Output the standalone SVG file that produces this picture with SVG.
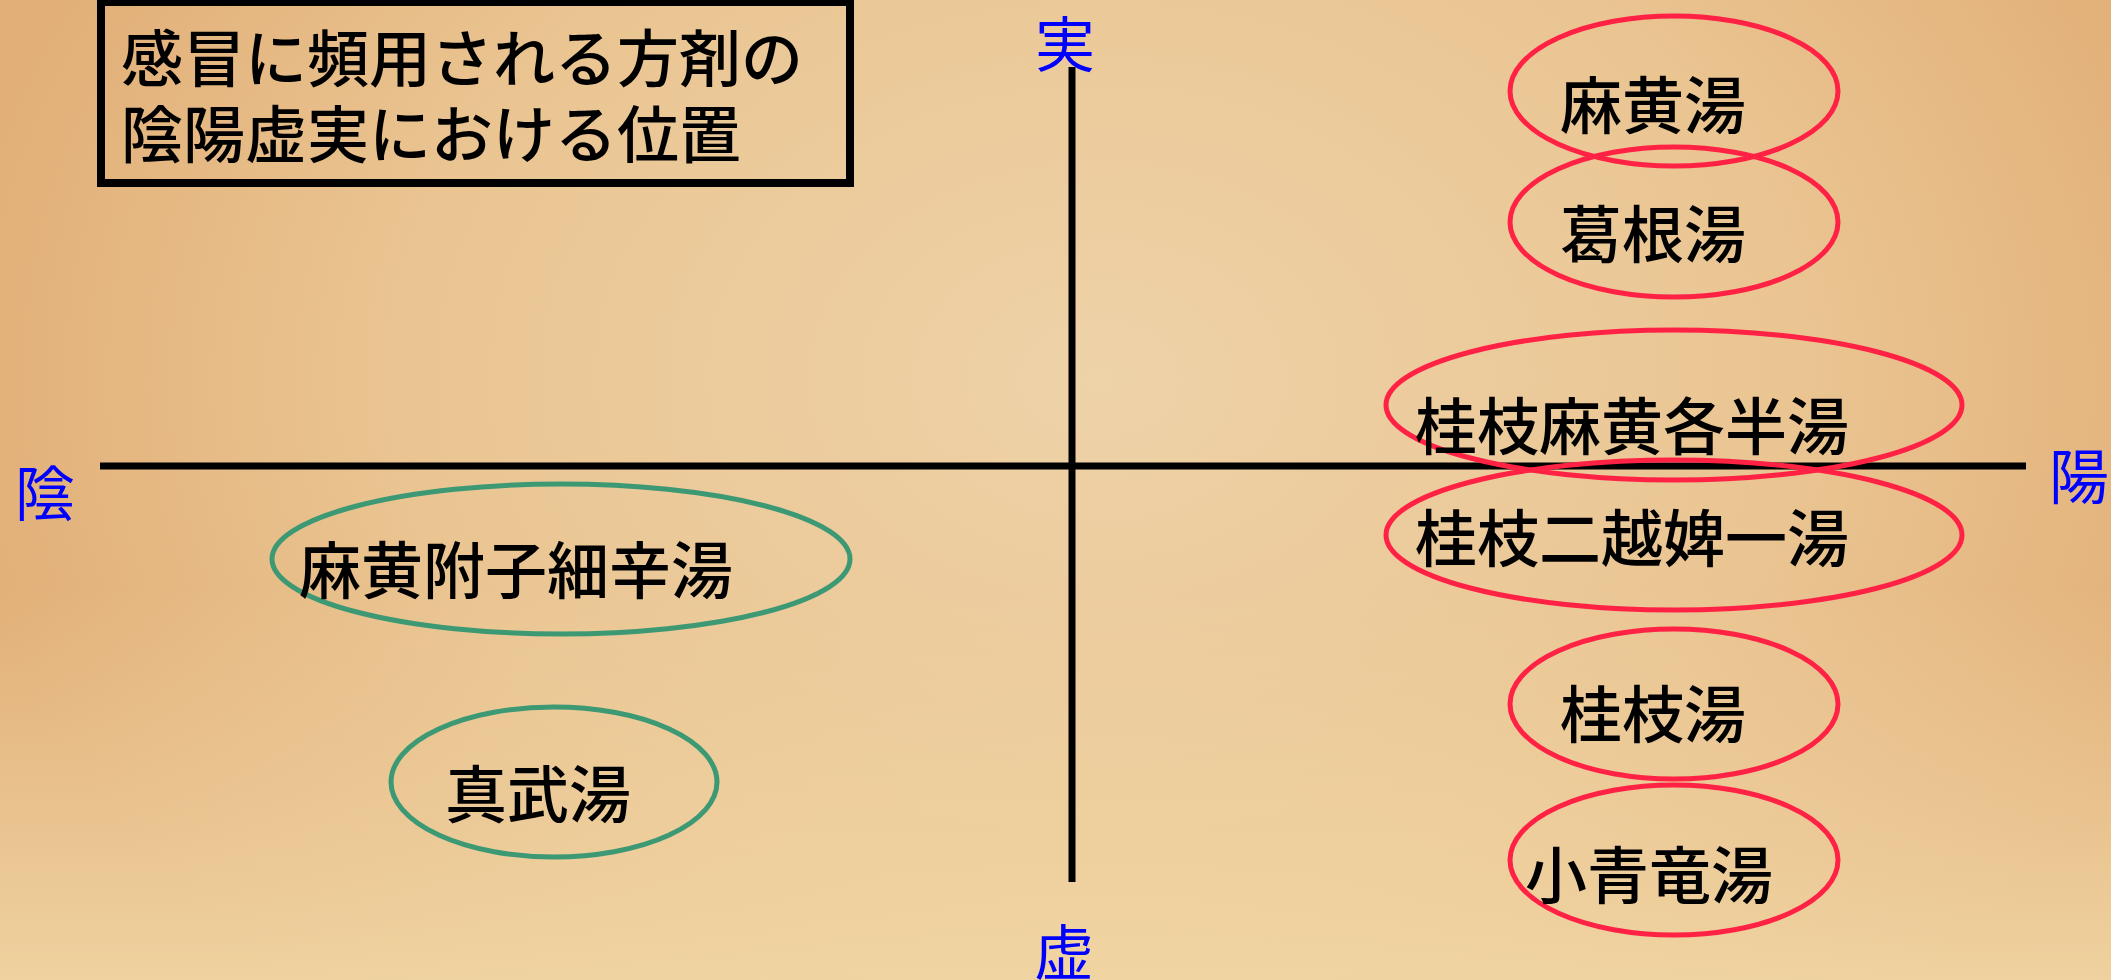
<svg xmlns="http://www.w3.org/2000/svg" width="2111" height="980" viewBox="0 0 2111 980">
  <defs>
    <radialGradient id="bgR" cx="1100" cy="380" r="1150" gradientUnits="userSpaceOnUse" gradientTransform="translate(1100 380) scale(1 0.75) translate(-1100 -380)">
      <stop offset="0" stop-color="#EED2A8"/>
      <stop offset="0.6" stop-color="#EAC592"/>
      <stop offset="1" stop-color="#E2AF78"/>
    </radialGradient>
    <linearGradient id="bgB" x1="0" y1="0" x2="0" y2="980" gradientUnits="userSpaceOnUse">
      <stop offset="0" stop-color="#F0D6A6" stop-opacity="0"/>
      <stop offset="0.6" stop-color="#F0D6A6" stop-opacity="0"/>
      <stop offset="1" stop-color="#F1D8A6" stop-opacity="0.85"/>
    </linearGradient>
    <style>
      .axis { stroke: #000; stroke-width: 7; fill: none; }
      .pole { fill: #0000FF; font-family: "Noto Sans CJK JP", sans-serif; font-size: 60px; text-anchor: middle; dominant-baseline: central; }
      .lbl { fill: #000; font-family: "Noto Sans CJK JP", sans-serif; font-size: 62px; font-weight: 500; dominant-baseline: central; }
      .yang { fill: none; stroke: #FF2244; stroke-width: 5; }
      .yin { fill: none; stroke: #3C9974; stroke-width: 5; }
      .title { fill: #000; font-family: "Noto Sans CJK JP", sans-serif; font-size: 62px; font-weight: 500; dominant-baseline: central; }
    </style>
  </defs>
  <rect x="0" y="0" width="2111" height="980" fill="url(#bgR)"/>
  <rect x="0" y="0" width="2111" height="980" fill="url(#bgB)"/>

  <g id="title">
    <rect x="101" y="2" width="749" height="181" fill="none" stroke="#000" stroke-width="8"/>
    <text class="title" x="121" y="55">感冒に頻用される方剤の</text>
    <text class="title" x="121" y="131">陰陽虚実における位置</text>
  </g>

  <g id="axes">
    <line class="axis" x1="1072" y1="67" x2="1072" y2="882"/>
    <line class="axis" x1="100" y1="466" x2="2026" y2="466"/>
  </g>

  <g id="poles">
    <text class="pole" x="1065" y="40">実</text>
    <text class="pole" x="1064" y="948">虚</text>
    <text class="pole" x="45" y="489">陰</text>
    <text class="pole" x="2079" y="472">陽</text>
  </g>

  <g id="n-mao">
    <ellipse class="yang" cx="1674" cy="91" rx="164" ry="75"/>
    <text class="lbl" x="1560" y="102">麻黄湯</text>
  </g>
  <g id="n-kakkon">
    <ellipse class="yang" cx="1674" cy="222" rx="164" ry="75"/>
    <text class="lbl" x="1560" y="231">葛根湯</text>
  </g>
  <g id="n-keimakakuhan">
    <ellipse class="yang" cx="1674" cy="405" rx="288" ry="75"/>
    <text class="lbl" x="1415" y="423">桂枝麻黄各半湯</text>
  </g>
  <g id="n-keinietsuhiitto">
    <ellipse class="yang" cx="1674" cy="535" rx="288" ry="75"/>
    <text class="lbl" x="1415" y="535">桂枝二越婢一湯</text>
  </g>
  <g id="n-keishi">
    <ellipse class="yang" cx="1674" cy="704" rx="164" ry="75"/>
    <text class="lbl" x="1560" y="711">桂枝湯</text>
  </g>
  <g id="n-shoseiryu">
    <ellipse class="yang" cx="1674" cy="860" rx="164" ry="75"/>
    <text class="lbl" x="1525" y="872">小青竜湯</text>
  </g>
  <g id="n-maobushisaishin">
    <ellipse class="yin" cx="561" cy="559" rx="289" ry="75"/>
    <text class="lbl" x="299" y="567">麻黄附子細辛湯</text>
  </g>
  <g id="n-shinbu">
    <ellipse class="yin" cx="554" cy="782" rx="163" ry="75"/>
    <text class="lbl" x="445" y="791">真武湯</text>
  </g>
</svg>
